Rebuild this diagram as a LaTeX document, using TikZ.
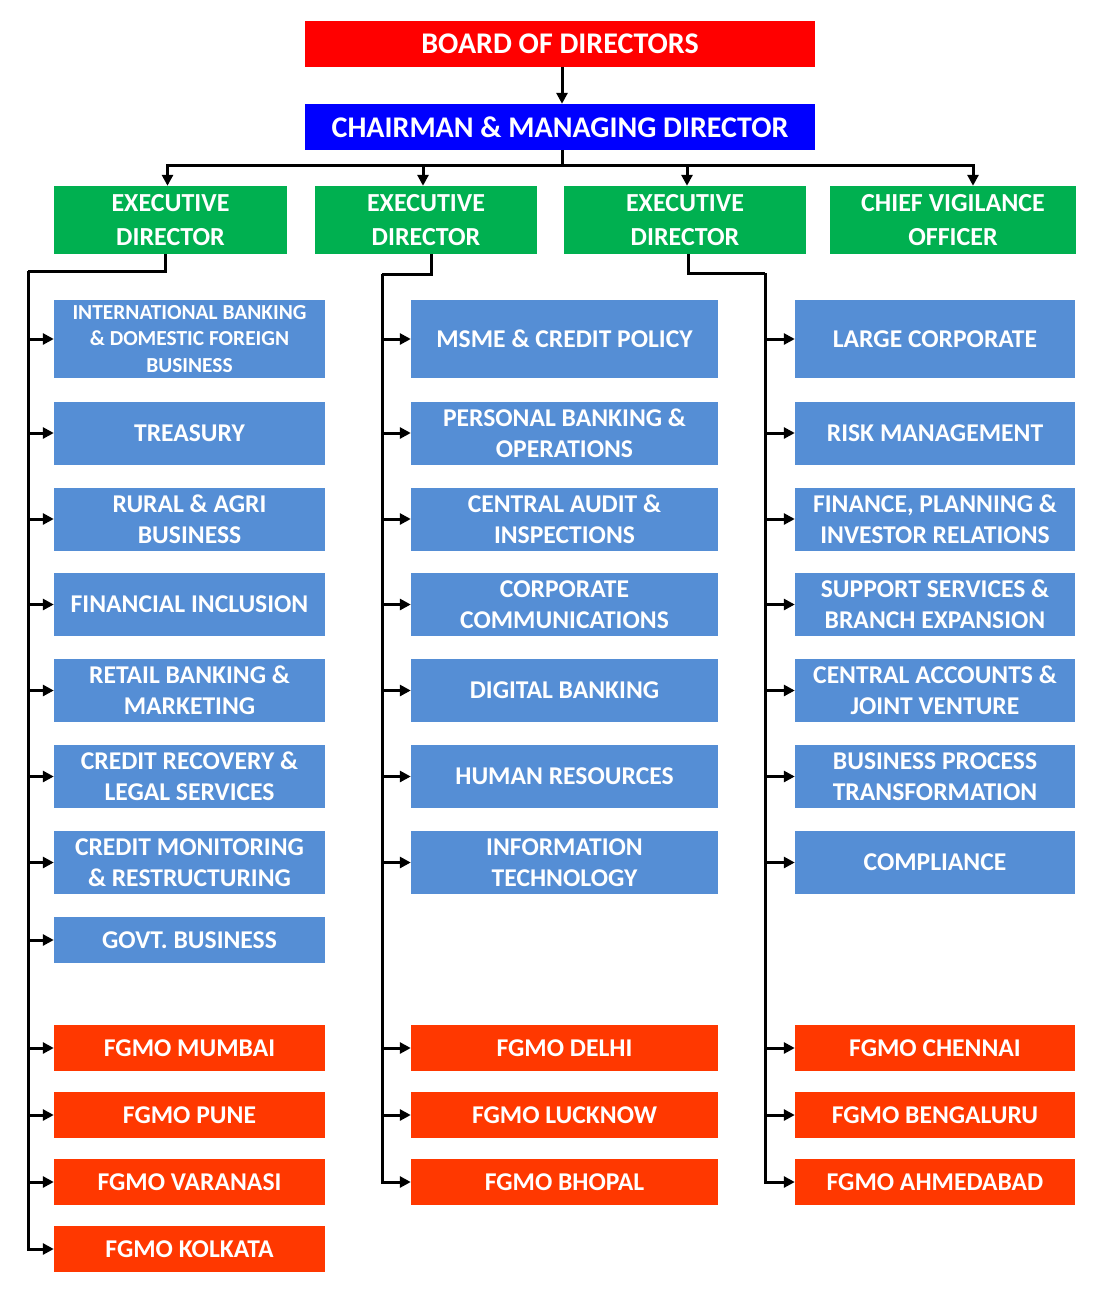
\documentclass[tikz,border=0pt]{standalone}
\usepackage{fontspec}
\setmainfont{Carlito}
\usetikzlibrary{arrows.meta, positioning}

\definecolor{boardred}{RGB}{255,0,0}
\definecolor{cmdblue}{RGB}{0,0,255}
\definecolor{edgreen}{RGB}{0,176,80}
\definecolor{deptblue}{RGB}{85,142,213}
\definecolor{fgmored}{RGB}{255,56,0}

\begin{document}
\begin{tikzpicture}[x=1pt, y=-1pt,
    box/.style={inner sep=0pt, align=center, text=white, font=\bfseries\fontsize{25.6}{31}\selectfont},
    topbox/.style={box, minimum width=510pt, minimum height=46pt, font=\bfseries\fontsize{30}{34}\selectfont},
    edbox/.style={box, fill=edgreen, minimum height=68pt, font=\bfseries\fontsize{26}{34}\selectfont},
    deptbox/.style={box, fill=deptblue, minimum height=63pt},
    fgmobox/.style={box, fill=fgmored, minimum height=46pt},
    colA/.style={minimum width=271pt},
    colB/.style={minimum width=307pt},
    colC/.style={minimum width=280pt},
    link/.style={line width=3pt},
    arr/.style={link, -{Triangle[length=11pt,width=11pt]}}
]
    \useasboundingbox (0,0) rectangle (1107,1293);

    % Top of the chart
    \node[topbox, fill=boardred] (board) at (560,44) {BOARD OF DIRECTORS};
    \node[topbox, fill=cmdblue] (cmd) at (560,127) {CHAIRMAN \& MANAGING DIRECTOR};

    % Second level
    \node[edbox, minimum width=233pt] (ed1) at (170.5,220) {EXECUTIVE\\DIRECTOR};
    \node[edbox, minimum width=222pt] (ed2) at (426,220) {EXECUTIVE\\DIRECTOR};
    \node[edbox, minimum width=242pt] (ed3) at (685,220) {EXECUTIVE\\DIRECTOR};
    \node[edbox, minimum width=246pt] (cvo) at (953,220) {CHIEF VIGILANCE\\OFFICER};

    % First executive director
    \node[deptbox, colA, minimum height=78pt, font=\bfseries\fontsize{21.4}{26.5}\selectfont] (intl) at (189.5,339) {INTERNATIONAL BANKING\\\& DOMESTIC FOREIGN\\BUSINESS};
    \node[deptbox, colA] (treasury) at (189.5,433) {TREASURY};
    \node[deptbox, colA] (rural) at (189.5,519) {RURAL \& AGRI\\BUSINESS};
    \node[deptbox, colA] (fininc) at (189.5,604.5) {FINANCIAL INCLUSION};
    \node[deptbox, colA] (retail) at (189.5,690.5) {RETAIL BANKING \&\\MARKETING};
    \node[deptbox, colA] (recovery) at (189.5,776.5) {CREDIT RECOVERY \&\\LEGAL SERVICES};
    \node[deptbox, colA] (monitor) at (189.5,862.5) {CREDIT MONITORING\\\& RESTRUCTURING};
    \node[deptbox, colA, minimum height=46pt] (govt) at (189.5,940) {GOVT. BUSINESS};
    \node[fgmobox, colA] (mumbai) at (189.5,1048) {FGMO MUMBAI};
    \node[fgmobox, colA] (pune) at (189.5,1115) {FGMO PUNE};
    \node[fgmobox, colA] (varanasi) at (189.5,1182) {FGMO VARANASI};
    \node[fgmobox, colA] (kolkata) at (189.5,1249) {FGMO KOLKATA};

    % Second executive director
    \node[deptbox, colB, minimum height=78pt] (msme) at (564.5,339) {MSME \& CREDIT POLICY};
    \node[deptbox, colB] (personal) at (564.5,433) {PERSONAL BANKING \&\\OPERATIONS};
    \node[deptbox, colB] (audit) at (564.5,519) {CENTRAL AUDIT \&\\INSPECTIONS};
    \node[deptbox, colB] (corpcomm) at (564.5,604.5) {CORPORATE\\COMMUNICATIONS};
    \node[deptbox, colB] (digital) at (564.5,690.5) {DIGITAL BANKING};
    \node[deptbox, colB] (hr) at (564.5,776.5) {HUMAN RESOURCES};
    \node[deptbox, colB] (it) at (564.5,862.5) {INFORMATION\\TECHNOLOGY};
    \node[fgmobox, colB] (delhi) at (564.5,1048) {FGMO DELHI};
    \node[fgmobox, colB] (lucknow) at (564.5,1115) {FGMO LUCKNOW};
    \node[fgmobox, colB] (bhopal) at (564.5,1182) {FGMO BHOPAL};

    % Third executive director
    \node[deptbox, colC, minimum height=78pt] (largecorp) at (935,339) {LARGE CORPORATE};
    \node[deptbox, colC] (risk) at (935,433) {RISK MANAGEMENT};
    \node[deptbox, colC] (finance) at (935,519) {FINANCE, PLANNING \&\\INVESTOR RELATIONS};
    \node[deptbox, colC] (support) at (935,604.5) {SUPPORT SERVICES \&\\BRANCH EXPANSION};
    \node[deptbox, colC] (accounts) at (935,690.5) {CENTRAL ACCOUNTS \&\\JOINT VENTURE};
    \node[deptbox, colC] (bpt) at (935,776.5) {BUSINESS PROCESS\\TRANSFORMATION};
    \node[deptbox, colC] (compliance) at (935,862.5) {COMPLIANCE};
    \node[fgmobox, colC] (chennai) at (935,1048) {FGMO CHENNAI};
    \node[fgmobox, colC] (bengaluru) at (935,1115) {FGMO BENGALURU};
    \node[fgmobox, colC] (ahmedabad) at (935,1182) {FGMO AHMEDABAD};

    % Connectors from the top
    \coordinate (bus) at (562,165);
    \draw[arr] (board.south -| bus) -- (cmd.north -| bus);
    \draw[link] (cmd.south -| bus) -- (bus);
    \draw[arr] (bus) -| ([xshift=-3pt]ed1.north);
    \draw[arr] (bus) -| ([xshift=-3pt]ed2.north);
    \draw[arr] (bus) -| ([xshift=2pt]ed3.north);
    \draw[arr] (bus) -| ([xshift=20pt]cvo.north);

    % Trunks down the columns
    \coordinate (trA) at (28,271);
    \coordinate (trB) at (382,274);
    \coordinate (trC) at (765,273);
    \draw[link] ([xshift=-5pt]ed1.south) |- (trA);
    \draw[link] ([xshift=5pt]ed2.south) |- (trB);
    \draw[link] ([xshift=3pt]ed3.south) |- (trC);
    \draw[arr] (trA) |- (kolkata.west);
    \draw[arr] (trB) |- (bhopal.west);
    \draw[arr] (trC) |- (ahmedabad.west);
    \foreach \d in {intl, treasury, rural, fininc, retail, recovery, monitor, govt, mumbai, pune, varanasi}
        \draw[arr] (trA |- \d.west) -- (\d.west);
    \foreach \d in {msme, personal, audit, corpcomm, digital, hr, it, delhi, lucknow}
        \draw[arr] (trB |- \d.west) -- (\d.west);
    \foreach \d in {largecorp, risk, finance, support, accounts, bpt, compliance, chennai, bengaluru}
        \draw[arr] (trC |- \d.west) -- (\d.west);
\end{tikzpicture}
\end{document}
